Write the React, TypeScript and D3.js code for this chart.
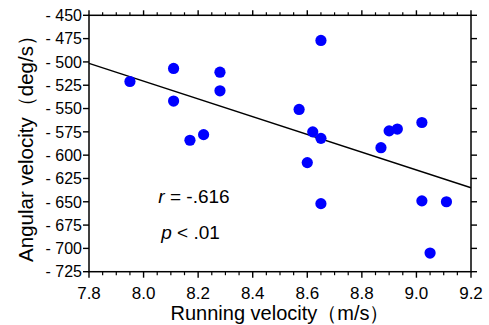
import React from 'react';
import * as d3 from 'd3';

// running velocity (m/s) and angular velocity (deg/s) for each subject
const runVelocity = [7.95, 8.11, 8.11, 8.17, 8.22, 8.28, 8.28, 8.57, 8.6, 8.62, 8.65, 8.65, 8.65, 8.87, 8.9, 8.93, 9.02, 9.02, 9.05, 9.11];
const angVelocity = [-521, -507, -542, -584, -578, -511, -531, -551, -608, -575, -477, -582, -652, -592, -574, -572, -565, -649, -705, -650];

// regression line end points
const fitX = [7.8, 9.2];
const fitY = [-501.5, -635];

const xTicks = [7.8, 8.0, 8.2, 8.4, 8.6, 8.8, 9.0, 9.2];
const yTicks = [-450, -475, -500, -525, -550, -575, -600, -625, -650, -675, -700, -725];
const statLines = ['r = -.616', 'p < .01'];

const W = 489;
const H = 325;
const left = 89, right = 471, top = 15.3, bottom = 271.7;
const font = '"Liberation Sans", Arial, sans-serif';

export default function App() {
  const x = d3.scaleLinear().domain([7.8, 9.2]).range([left, right]);
  const y = d3.scaleLinear().domain([-725, -450]).range([bottom, top]);
  const minorX = d3.range(0, 29).map(i => 7.8 + i * 0.05).filter(v => !xTicks.some(t => Math.abs(t - v) < 1e-6));
  const line = d3.line<number>().x((d, i) => x(fitX[i])).y(d => y(d));

  return (
    <svg width={W} height={H} style={{position: 'absolute', left: 0, top: 0, background: '#fff'}} fontFamily={font}>
      {/* fit line */}
      <path d={line(fitY) || ''} stroke="#000" strokeWidth={1.4} fill="none" />
      {/* points */}
      {runVelocity.map((v, i) => (
        <circle key={i} cx={x(v)} cy={y(angVelocity[i])} r={5.6} fill="#0000ff" />
      ))}
      {/* frame */}
      <rect x={left} y={top} width={right - left} height={bottom - top} fill="none" stroke="#000" strokeWidth={1.5} />
      {/* x ticks bottom and top */}
      {xTicks.map(t => (
        <g key={'x' + t}>
          <line x1={x(t)} x2={x(t)} y1={bottom} y2={bottom + 6} stroke="#000" strokeWidth={1.4} />
          <line x1={x(t)} x2={x(t)} y1={top} y2={top - 5} stroke="#000" strokeWidth={1.4} />
          <text x={x(t)} y={298.5} fontSize={17} textAnchor="middle">{t.toFixed(1)}</text>
        </g>
      ))}
      {minorX.map(t => (
        <g key={'m' + t}>
          <line x1={x(t)} x2={x(t)} y1={bottom} y2={bottom + 3.5} stroke="#000" strokeWidth={1.2} />
          <line x1={x(t)} x2={x(t)} y1={top} y2={top - 3} stroke="#000" strokeWidth={1.2} />
        </g>
      ))}
      {/* y ticks left and right */}
      {yTicks.map(t => (
        <g key={'y' + t}>
          <line x1={left} x2={left - 6} y1={y(t)} y2={y(t)} stroke="#000" strokeWidth={1.4} />
          <line x1={right} x2={right + 6} y1={y(t)} y2={y(t)} stroke="#000" strokeWidth={1.4} />
          <text x={82} y={y(t)} dy="0.36em" fontSize={16} textAnchor="end">{'- ' + Math.abs(t)}</text>
        </g>
      ))}
      {/* stats */}
      <text x={194} y={202.5} fontSize={19} textAnchor="middle">
        <tspan fontStyle="italic">{statLines[0].slice(0, 1)}</tspan>{statLines[0].slice(1)}
      </text>
      <text x={190.5} y={238.5} fontSize={19} textAnchor="middle">
        <tspan fontStyle="italic">{statLines[1].slice(0, 1)}</tspan>{statLines[1].slice(1)}
      </text>
      {/* axis titles */}
      <text x={(left + right) / 2} y={319.5} fontSize={20} textAnchor="middle">Running velocity（m/s）</text>
      <text transform={`translate(33,${(top + bottom) / 2}) rotate(-90)`} fontSize={20.5} textAnchor="middle">Angular velocity（deg/s）</text>
    </svg>
  );
}
